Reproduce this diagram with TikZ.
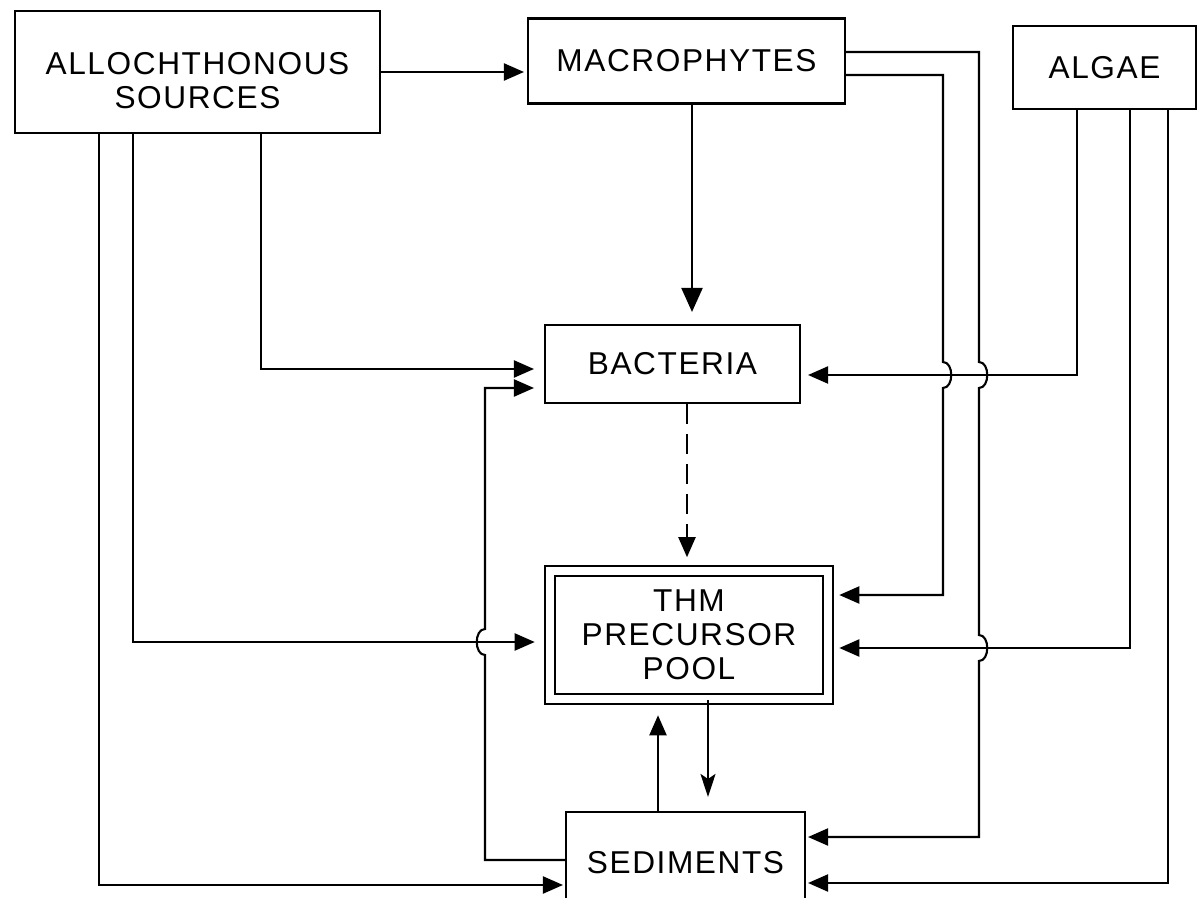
\documentclass[tikz,border=0pt]{standalone}
\usepackage{fontspec}
\usepackage{tikz}
\usetikzlibrary{arrows.meta, calc, positioning}
\newfontfamily\boxfont[LetterSpace=5]{Liberation Sans}
\tikzset{
  block/.style={draw, line width=1.2pt, align=center, inner sep=0pt,
    font=\boxfont\fontsize{18}{19.5}\selectfont},
  link/.style={line width=1.2pt, -{Triangle[length=0.4cm, width=0.34cm]}, shorten >=0.2cm},
  biglink/.style={link, -{Triangle[length=0.48cm, width=0.42cm]}},
}

\begin{document}
\begin{tikzpicture}[x=0.02cm, y=-0.02cm]
\useasboundingbox (0,0) rectangle (1200,898);

% Sources of organic matter
\node[block, minimum width=7.3cm, minimum height=2.44cm, text height=41.4pt, text depth=0pt] (alloch) at (197.5,72) {ALLOCHTHONOUS\\[0pt]SOURCES};
\node[block, minimum width=6.34cm, minimum height=1.7cm] (macro) at (686.5,61) {MACROPHYTES};
\node[block, minimum width=3.66cm, minimum height=1.66cm] (algae) at (1104.5,67.5) {ALGAE};

% Middle column
\node[block, minimum width=5.1cm, minimum height=1.56cm] (bact) at (672.5,364) {BACTERIA};
\node[block, double, double distance=0.16cm, minimum width=5.57cm, minimum height=2.57cm] (thm) at (689,635) {THM\\PRECURSOR\\POOL};
\node[block, minimum width=4.78cm, minimum height=2.04cm] (sed) at (685.5,863) {SEDIMENTS};

% Lanes and crossings
\coordinate (laneS) at (979,52);
\coordinate (laneT) at (943,75);
\coordinate (hopL) at (485,642);

% Allochthonous sources
\draw[link, shorten >=0.06cm] (alloch.east) -- (macro.west |- alloch.east);
\draw[link] ([xshift=1.27cm]alloch.south) |- ([yshift=-0.1cm]bact.west);
\draw[link, shorten >=0.28cm] ([xshift=-1.29cm]alloch.south) |- ([yshift=-0.14cm]thm.west);
\draw[link, shorten >=0.04cm] ([xshift=-1.97cm]alloch.south) |- ([yshift=-0.44cm]sed.west);

% Macrophytes
\draw[biglink, shorten >=0.24cm] ([xshift=0.11cm]macro.south) -- ([xshift=0.11cm]macro.south |- bact.north);
\draw[link] (macro.east |- laneT) -- (laneT) -- (943,362) .. controls +(11,0) and +(11,0) .. (943,388)
  |- ([yshift=0.8cm]thm.east);
\draw[link, shorten >=0.04cm] (macro.east |- laneS) -- (laneS) -- (979,362) .. controls +(11,0) and +(11,0) .. (979,388)
  -- (979,635) .. controls +(11,0) and +(11,0) .. (979,661) |- ([yshift=0.52cm]sed.east);

% Algae
\draw[link, shorten >=0.14cm] ([xshift=-0.55cm]algae.south) |- ([yshift=-0.22cm]bact.east);
\draw[link] ([xshift=0.51cm]algae.south) |- ([yshift=-0.26cm]thm.east);
\draw[link, shorten >=0.04cm] ([xshift=1.27cm]algae.south) |- ([yshift=-0.4cm]sed.east);

% Bacteria, pool and sediments
\draw[link, dash pattern=on 0.4cm off 0.2cm, shorten >=0.25cm] ([xshift=0.29cm]bact.south) -- ([xshift=0.29cm]bact.south |- thm.north);
\draw[link, -{Stealth[length=0.46cm, width=0.3cm, inset=0.1cm]}, shorten >=0.28cm] ([xshift=0.38cm]thm.south) -- ([xshift=0.38cm]thm.south |- sed.north);
\draw[link, shorten >=0.3cm] ([xshift=-0.55cm]sed.north) -- ([xshift=-0.55cm]sed.north |- thm.south);
\draw[link] ([yshift=0.06cm]sed.west) -| ($(hopL)+(0,13)$) .. controls +(-11,0) and +(-11,0) .. ($(hopL)+(0,-13)$)
  |- ([yshift=-0.48cm]bact.west);

\end{tikzpicture}
\end{document}
